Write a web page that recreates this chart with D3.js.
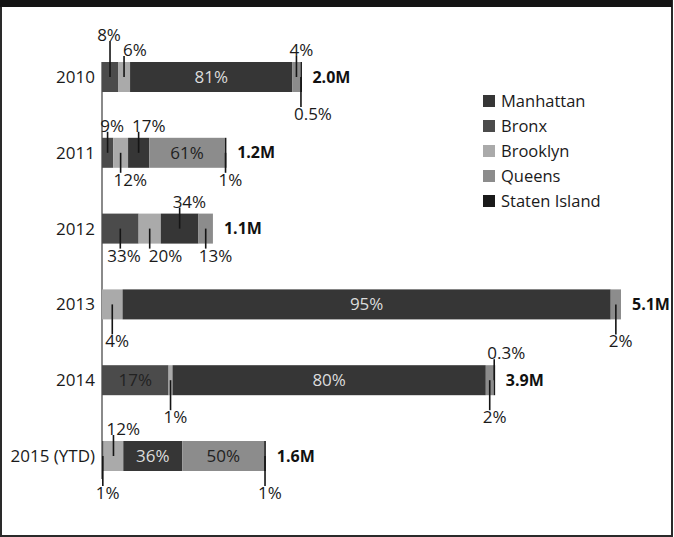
<!DOCTYPE html>
<html>
<head>
<meta charset="utf-8">
<script src="https://cdn.jsdelivr.net/npm/d3@7"></script>
<style>
  body { margin: 0; background: #fff; }
  svg { display: block; font-family: "Open Sans", "Noto Sans", sans-serif; }
</style>
</head>
<body>
<div id="chart"></div>
<script>
(function(){

    // years and total volume (millions); bar lengths
    var years = ["2010", "2011", "2012", "2013", "2014", "2015 (YTD)"];
    var totals = [1.96, 1.22, 1.09, 5.1, 3.86, 1.61];

    // share of each borough, in percent, in stacking order
    var bronx = [8, 9, 33, 0, 17, 1];
    var brooklyn = [6, 12, 20, 4, 1, 12];
    var manhattan = [81, 17, 34, 95, 80, 36];
    var queens = [4, 61, 13, 2, 2, 50];
    var statenIsland = [0.5, 1, 0, 0, 0.3, 1];

    // where each percent label goes
    var bronxLabel = ["up2", "up", "down", "", "in", "down2"];
    var brooklynLabel = ["up", "down", "down", "down2", "down2", "up"];
    var manhattanLabel = ["in", "up", "up", "in", "in", "in"];
    var queensLabel = ["up", "in", "down", "down2", "down2", "in"];
    var statenLabel = ["down2", "down", "", "", "up", "down2"];

    var legendOrder = ["Manhattan", "Bronx", "Brooklyn", "Queens", "Staten Island"];

    var series = [
      {name: "Bronx", values: bronx, labels: bronxLabel, color: "#4b4b4b", text: "#222"},
      {name: "Brooklyn", values: brooklyn, labels: brooklynLabel, color: "#aaaaaa", text: "#222"},
      {name: "Manhattan", values: manhattan, labels: manhattanLabel, color: "#363636", text: "#dcdcdc"},
      {name: "Queens", values: queens, labels: queensLabel, color: "#8c8c8c", text: "#222"},
      {name: "Staten Island", values: statenIsland, labels: statenLabel, color: "#1a1a1a", text: "#ddd"}
    ];

    var width = 674, height = 537;
    var barH = 30;
    var fs = 17;

    var svg = d3.select("#chart").append("svg")
      .attr("width", width)
      .attr("height", height);

    // frame and black header strip
    svg.append("rect").attr("x", 1).attr("y", 1).attr("width", width - 3).attr("height", height - 2)
      .attr("fill", "#fff").attr("stroke", "#2a2a2a").attr("stroke-width", 2);
    svg.append("rect").attr("x", 0).attr("y", 0).attr("width", width - 2).attr("height", 7)
      .attr("fill", "#141414");

    var x = d3.scaleLinear().domain([0, 5.1]).range([102, 621]);
    var y = d3.scalePoint().domain(years).range([77, 456]);

    // rows: build stacked segments, normalised so each bar ends at its total
    var rows = years.map(function(yr, i){
      var sum = d3.sum(series, function(s){ return s.values[i]; });
      var acc = 0;
      var segs = series.map(function(s){
        var v = s.values[i];
        var x0 = acc / sum * totals[i];
        acc += v;
        var x1 = acc / sum * totals[i];
        return {year: yr, s: s, v: v, x0: x0, x1: x1, pos: s.labels[i]};
      });
      return {year: yr, total: totals[i], segs: segs};
    });

    // baseline
    svg.append("line")
      .attr("x1", x(0)).attr("x2", x(0))
      .attr("y1", y(years[0]) - barH / 2)
      .attr("y2", y(years[years.length - 1]) + barH / 2 + 8)
      .attr("stroke", "#8a8a8a").attr("stroke-width", 2);

    var row = svg.selectAll("g.row").data(rows).enter().append("g").attr("class", "row");

    row.selectAll("rect").data(function(d){ return d.segs.filter(function(s){ return s.v > 0; }); })
      .enter().append("rect")
      .attr("x", function(d){ return x(d.x0); })
      .attr("y", function(d){ return y(d.year) - barH / 2; })
      .attr("width", function(d){ return Math.max(1.5, x(d.x1) - x(d.x0)); })
      .attr("height", barH)
      .attr("fill", function(d){ return d.s.color; });

    // year labels
    row.append("text")
      .attr("x", 95).attr("y", function(d){ return y(d.year); })
      .attr("dy", "0.35em").attr("text-anchor", "end")
      .attr("font-size", fs).attr("fill", "#1a1a1a")
      .text(function(d){ return d.year; });

    // totals
    row.append("text")
      .attr("x", function(d){ return x(d.total) + 11; })
      .attr("y", function(d){ return y(d.year); })
      .attr("dy", "0.35em")
      .attr("font-size", 16).attr("font-weight", "bold").attr("fill", "#111")
      .text(function(d){ return d.total.toFixed(1) + "M"; });

    var offsets = {up: -12, up2: -27, down: 12, down2: 22};

    row.each(function(r){
      var g = d3.select(this);
      var outside = [];
      r.segs.filter(function(s){ return s.pos; }).forEach(function(d){
        var cx = (x(d.x0) + x(d.x1)) / 2;
        var cy = y(d.year);
        var txt = d.v + "%";
        if (d.pos === "in") {
          g.append("text").attr("x", cx).attr("y", cy).attr("dy", "0.35em")
            .attr("text-anchor", "middle").attr("font-size", fs)
            .attr("fill", d.s.text).text(txt);
          return;
        }
        var up = d.pos.indexOf("up") === 0;
        var ly = up ? cy - barH / 2 + offsets[d.pos] : cy + barH / 2 + offsets[d.pos];
        g.append("line")
          .attr("x1", cx).attr("x2", cx)
          .attr("y1", cy)
          .attr("y2", up ? ly + 6 : ly - 7)
          .attr("stroke", "#151515").attr("stroke-width", 1.6);
        var t = g.append("text").attr("y", ly).attr("dy", "0.35em")
          .attr("font-size", fs).attr("fill", "#1a1a1a").text(txt);
        outside.push({t: t, side: up ? "up" : "down", level: d.pos, x: cx - 7,
          w: t.node().getComputedTextLength()});
      });
      // spread labels on the same side so they don't collide
      d3.groups(outside, function(o){ return o.side; }).forEach(function(grp){
        var list = grp[1].sort(function(a, b){ return a.x - b.x; });
        for (var k = 1; k < list.length; k++) {
          var a = list[k - 1], b = list[k];
          var gap = a.level === b.level ? 8 : 2;
          var over = a.x + a.w + gap - b.x;
          if (over > 0) { a.x -= over / 2; b.x += over / 2; }
        }
      });
      outside.forEach(function(o){ o.t.attr("x", o.x); });
    });

    // legend
    var colorOf = {};
    series.forEach(function(s){ colorOf[s.name] = s.color; });
    var leg = svg.selectAll("g.leg").data(legendOrder).enter().append("g").attr("class", "leg")
      .attr("transform", function(d, i){ return "translate(483," + (101 + i * 25) + ")"; });
    leg.append("rect").attr("x", 0).attr("y", -6).attr("width", 12).attr("height", 12)
      .attr("fill", function(d){ return colorOf[d]; });
    leg.append("text").attr("x", 18).attr("y", 0).attr("dy", "0.35em")
      .attr("font-size", 16.5).attr("fill", "#1a1a1a").text(function(d){ return d; });

})();
</script>
</body>
</html>
